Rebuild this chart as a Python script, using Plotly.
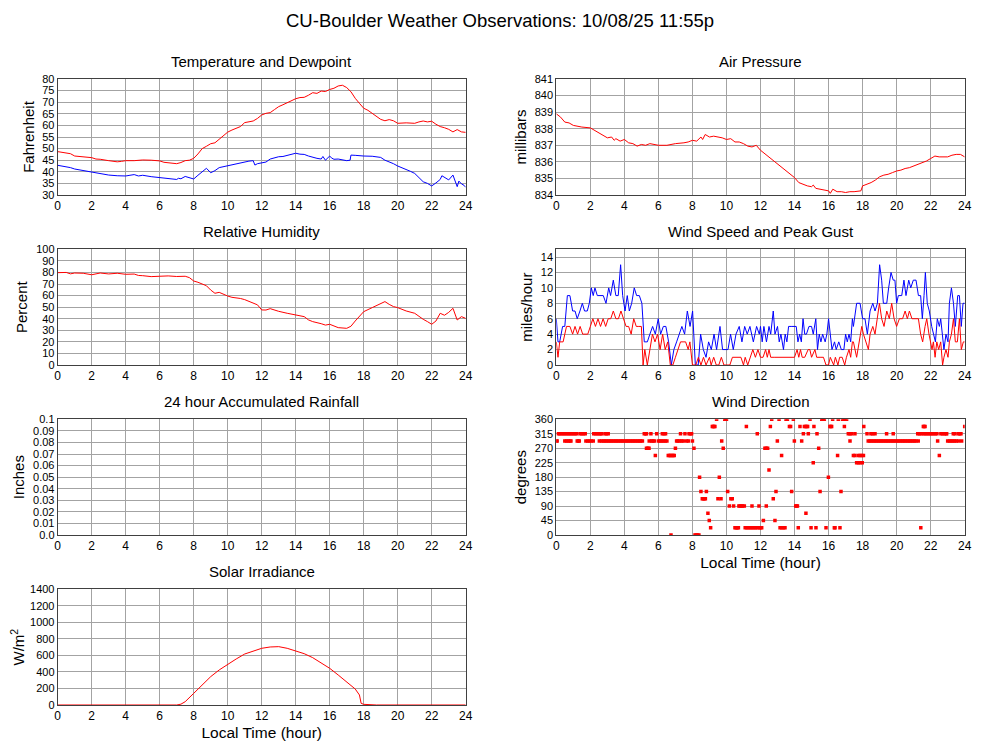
import plotly.graph_objects as go

# ---------------- DATA ----------------
hour_ticks = list(range(0, 25, 2))

temperature = [(0, 48.7), (0.25, 48.4), (0.5, 48.0), (0.75, 47.8), (1, 46.8), (1.25, 46.6), (1.5, 46.5), (2, 46.1),
               (2.25, 45.5), (2.5, 45.4), (3, 44.8), (3.5, 44.3), (3.75, 44.5), (4, 44.8), (4.5, 44.8), (5, 45.1),
               (5.5, 45.0), (6, 44.7), (6.25, 44.1), (6.5, 43.8), (7, 43.5), (7.25, 44.0), (7.5, 44.8), (7.75, 45.0),
               (8, 45.8), (8.25, 47.7), (8.5, 50.0), (8.75, 51.0), (9, 52.1), (9.25, 52.5), (9.5, 54.1), (9.75, 55.5),
               (10, 57.1), (10.25, 58.0), (10.5, 58.7), (10.75, 59.5), (11, 61.2), (11.25, 61.4), (11.5, 61.9),
               (11.75, 63.0), (12, 64.5), (12.25, 65.2), (12.5, 65.5), (12.75, 66.8), (13, 68.1), (13.25, 68.9),
               (13.5, 69.8), (13.75, 70.8), (14, 71.5), (14.25, 72.0), (14.5, 72.1), (14.75, 73.0), (15, 74.1),
               (15.25, 73.8), (15.5, 74.8), (15.75, 74.6), (16, 75.5), (16.25, 76.0), (16.5, 77.0), (16.75, 77.3),
               (17, 76.3), (17.25, 74.5), (17.5, 71.7), (17.75, 69.5), (18, 67.4), (18.25, 66.5), (18.5, 65.2),
               (18.75, 64.0), (19, 62.6), (19.25, 62.0), (19.5, 62.5), (19.75, 62.0), (20, 60.9), (20.5, 61.1),
               (21, 60.9), (21.25, 61.5), (21.5, 61.9), (21.75, 61.5), (22, 61.8), (22.25, 60.5), (22.5, 59.5),
               (22.75, 59.0), (23, 58.3), (23.25, 57.2), (23.5, 58.2), (23.75, 57.2), (24, 57.0)]

dewpoint = [(0, 42.8), (0.25, 42.5), (0.5, 42.2), (0.75, 41.8), (1, 41.2), (1.5, 40.5), (2, 39.8), (2.5, 39.2),
            (3, 38.6), (3.5, 38.3), (4, 38.2), (4.25, 38.5), (4.5, 38.8), (4.75, 38.2), (5, 38.5), (5.5, 37.9),
            (6, 37.5), (6.5, 37.0), (7, 36.7), (7.1, 37.2), (7.25, 37.0), (7.5, 38.0), (7.75, 37.6), (8, 36.9),
            (8.25, 38.5), (8.5, 40.0), (8.75, 41.5), (9, 39.6), (9.25, 40.5), (9.5, 41.8), (9.75, 42.2),
            (10, 42.9), (10.25, 43.2), (10.5, 43.6), (10.75, 44.0), (11, 44.3), (11.25, 44.6), (11.5, 44.8),
            (11.6, 42.9), (11.75, 43.5), (12, 43.9), (12.25, 44.2), (12.5, 45.5), (12.75, 46.0), (13, 46.5),
            (13.25, 46.6), (13.5, 47.0), (13.75, 47.6), (14, 48.0), (14.25, 47.6), (14.5, 47.5), (14.75, 46.8),
            (15, 46.2), (15.25, 45.8), (15.5, 45.5), (15.6, 46.6), (15.75, 45.0), (16, 46.8), (16.1, 46.0),
            (16.25, 45.4), (16.5, 45.5), (16.75, 45.0), (17, 44.8), (17.2, 45.0), (17.25, 47.2), (17.5, 47.1),
            (17.75, 46.9), (18, 46.8), (18.5, 46.7), (19, 46.2), (19.25, 45.0), (19.5, 44.4), (19.75, 43.5),
            (20, 42.5), (20.25, 41.8), (20.5, 41.0), (20.75, 40.2), (21, 39.3), (21.25, 37.5), (21.5, 35.7),
            (21.75, 35.0), (22, 33.9), (22.25, 35.2), (22.5, 36.7), (22.6, 38.3), (22.75, 37.5), (23, 36.5),
            (23.25, 38.6), (23.4, 35.0), (23.5, 33.6), (23.6, 36.0), (23.75, 34.8), (23.9, 34.2), (24, 33.3)]

pressure = [(0, 838.9), (0.25, 838.7), (0.5, 838.4), (0.75, 838.35), (1, 838.2), (1.25, 838.15), (1.5, 838.1),
            (2, 838.05), (2.25, 837.9), (2.5, 837.7), (2.75, 837.6), (3, 837.45), (3.25, 837.5), (3.4, 837.3),
            (3.5, 837.4), (3.75, 837.25), (4, 837.35), (4.25, 837.15), (4.5, 837.1), (4.75, 836.95), (5, 837.05),
            (5.25, 837.0), (5.5, 837.1), (5.75, 837.05), (6, 837.0), (6.5, 837.0), (7, 837.1), (7.5, 837.15),
            (7.75, 837.2), (8, 837.3), (8.25, 837.25), (8.5, 837.5), (8.6, 837.35), (8.75, 837.65), (9, 837.5),
            (9.25, 837.55), (9.5, 837.5), (9.75, 837.45), (10, 837.35), (10.25, 837.4), (10.5, 837.2),
            (10.75, 837.2), (11, 837.1), (11.25, 836.95), (11.5, 836.9), (11.75, 837.0), (12, 836.7),
            (12.25, 836.5), (12.5, 836.25), (12.75, 836.1), (13, 835.9), (13.25, 835.65), (13.5, 835.45),
            (13.75, 835.25), (14, 835.05), (14.25, 834.75), (14.5, 834.65), (14.75, 834.55), (15, 834.5),
            (15.1, 834.6), (15.25, 834.4), (15.5, 834.35), (15.75, 834.3), (16, 834.25), (16.1, 834.1),
            (16.25, 834.35), (16.5, 834.2), (16.75, 834.2), (17, 834.15), (17.25, 834.2), (17.5, 834.2),
            (17.9, 834.25), (18, 834.55), (18.25, 834.65), (18.5, 834.75), (18.75, 834.9), (19, 835.1),
            (19.25, 835.2), (19.5, 835.25), (19.75, 835.35), (20, 835.45), (20.25, 835.5), (20.5, 835.6),
            (20.75, 835.65), (21, 835.75), (21.25, 835.85), (21.5, 835.95), (21.75, 836.05), (22, 836.2),
            (22.25, 836.35), (22.5, 836.3), (23, 836.3), (23.25, 836.4), (23.5, 836.45), (23.75, 836.45),
            (24, 836.3)]

humidity = [(0, 79.8), (0.5, 80.0), (0.75, 78.8), (1, 79.5), (1.5, 79.3), (2, 78.0), (2.5, 79.5), (3, 78.7),
            (3.5, 79.3), (4, 78.4), (4.5, 78.6), (4.75, 77.4), (5, 77.2), (5.5, 76.4), (6, 76.7), (6.5, 77.0),
            (7, 76.5), (7.5, 76.7), (7.75, 75.5), (8, 72.6), (8.25, 71.5), (8.5, 69.7), (8.75, 68.5), (9, 64.8),
            (9.25, 62.0), (9.5, 62.8), (9.75, 61.0), (10, 59.6), (10.25, 58.5), (10.5, 58.2), (10.75, 57.5),
            (11, 56.5), (11.25, 55.0), (11.5, 53.9), (11.75, 52.0), (12, 47.6), (12.25, 47.5), (12.5, 48.7),
            (12.75, 47.5), (13, 46.4), (13.5, 44.7), (14, 43.2), (14.5, 41.8), (14.75, 39.0), (15, 37.5),
            (15.5, 35.7), (15.75, 34.5), (16, 35.2), (16.25, 34.0), (16.5, 32.3), (17, 31.7), (17.25, 33.5),
            (17.5, 38.0), (17.75, 42.5), (18, 46.1), (18.5, 49.6), (19, 53.3), (19.25, 54.8), (19.5, 52.4),
            (19.75, 50.5), (20, 49.6), (20.5, 46.7), (21, 44.7), (21.25, 42.0), (21.5, 39.5), (21.75, 37.5),
            (22, 35.2), (22.25, 38.0), (22.5, 44.7), (22.75, 43.0), (23, 45.5), (23.25, 49.0), (23.5, 38.9),
            (23.75, 41.8), (24, 40.3)]

rainfall = [(0, 0.0), (24, 0.0)]

solar = [(0, 0), (7.0, 0), (7.25, 10), (7.5, 40), (8, 141), (8.5, 242), (9, 343), (9.5, 424), (10, 492),
         (10.5, 557), (11, 617), (11.5, 653), (12, 686), (12.5, 702), (13, 706), (13.5, 686), (14, 658),
         (14.5, 621), (15, 573), (15.5, 512), (16, 444), (16.5, 363), (17, 282), (17.5, 194), (17.75, 121),
         (17.85, 20), (18, 8), (18.5, 4), (18.75, 0), (24, 0)]

wind_gust = [(0, 6), (0.1, 3), (0.2, 3), (0.37, 5), (0.5, 5), (0.65, 9), (0.8, 9), (0.96, 7), (1.1, 7), (1.23, 6),
             (1.39, 7), (1.53, 8), (1.66, 7), (1.82, 7), (1.94, 8), (2.06, 10), (2.17, 9), (2.27, 10), (2.41, 9),
             (2.57, 9), (2.76, 9), (2.92, 8), (3.08, 10), (3.19, 9), (3.35, 11), (3.5, 9), (3.64, 9), (3.78, 13),
             (3.9, 9), (4.04, 7), (4.17, 9), (4.29, 7), (4.43, 8), (4.58, 10), (4.72, 9), (4.88, 9), (5.03, 8),
             (5.17, 3), (5.35, 3), (5.5, 4), (5.66, 5), (5.82, 4), (5.99, 6), (6.13, 4), (6.29, 5), (6.44, 5),
             (6.6, 3), (6.76, 0), (6.91, 2), (7.07, 3), (7.23, 4), (7.38, 5), (7.54, 4), (7.7, 7), (7.86, 5),
             (8.01, 7), (8.17, 0), (8.34, 0), (8.48, 4), (8.64, 2), (8.8, 1), (8.95, 3), (9.11, 2), (9.27, 4),
             (9.42, 2), (9.62, 5), (9.77, 2), (9.93, 2), (10.09, 2), (10.24, 4), (10.4, 2), (10.56, 4),
             (10.75, 5), (10.91, 3), (11.07, 5), (11.22, 4), (11.38, 5), (11.58, 3), (11.77, 5), (11.93, 4),
             (12.0, 5), (12.1, 3), (12.2, 5), (12.35, 3), (12.5, 5), (12.6, 4), (12.75, 7), (12.85, 4),
             (13.0, 5), (13.1, 3), (13.2, 4), (13.35, 2), (13.45, 4), (13.55, 3), (13.65, 5), (13.8, 5),
             (14.0, 5), (14.1, 5), (14.2, 3), (14.3, 4), (14.4, 3), (14.5, 6), (14.6, 4), (14.7, 4), (14.85, 5),
             (15.0, 5), (15.1, 4), (15.25, 6), (15.35, 2), (15.45, 4), (15.55, 3), (15.65, 4), (15.8, 3),
             (15.9, 4), (16.0, 6), (16.1, 4), (16.2, 2), (16.35, 3), (16.45, 2), (16.6, 3), (16.75, 2),
             (16.9, 2), (17.0, 4), (17.1, 3), (17.2, 4), (17.3, 3), (17.4, 6), (17.46, 5), (17.65, 8),
             (17.85, 8), (18.0, 6), (18.14, 6), (18.28, 4), (18.44, 7), (18.6, 8), (18.73, 7), (18.87, 8),
             (19.0, 13), (19.12, 11), (19.22, 8), (19.42, 8), (19.53, 10), (19.67, 12), (19.8, 11), (19.9, 11),
             (20.0, 8), (20.1, 9), (20.3, 9), (20.43, 11), (20.55, 9), (20.71, 11), (20.83, 10), (20.98, 11),
             (21.14, 11), (21.28, 9), (21.41, 9), (21.51, 6), (21.61, 9), (21.69, 12), (21.8, 8), (21.92, 7),
             (22.06, 5), (22.16, 4), (22.28, 3), (22.39, 6), (22.51, 5), (22.59, 6), (22.7, 3), (22.78, 2),
             (22.9, 4), (23.02, 3), (23.1, 8), (23.22, 10), (23.34, 8), (23.45, 5), (23.59, 9), (23.69, 9),
             (23.8, 5), (23.9, 8), (24.0, 8)]

wind_speed = [(0, 3), (0.1, 1), (0.2, 3), (0.4, 3), (0.6, 5), (0.8, 5), (0.96, 4), (1.1, 5), (1.25, 4), (1.4, 5),
              (1.55, 4), (1.7, 4), (1.85, 4), (2.0, 5), (2.15, 6), (2.3, 5), (2.45, 6), (2.6, 5), (2.75, 6),
              (2.9, 5), (3.05, 6), (3.2, 6), (3.35, 7), (3.5, 6), (3.65, 6), (3.8, 7), (3.95, 6), (4.1, 5),
              (4.25, 5), (4.4, 4), (4.55, 6), (4.7, 5), (4.85, 5), (5.0, 5), (5.1, 0), (5.2, 2), (5.35, 0),
              (5.5, 2), (5.65, 4), (5.8, 3), (5.95, 4), (6.1, 2), (6.25, 4), (6.4, 2), (6.55, 3), (6.7, 0),
              (6.85, 0), (7.0, 1), (7.15, 2), (7.3, 3), (7.45, 3), (7.6, 3), (7.75, 2), (7.85, 3), (8.0, 0),
              (8.2, 0), (8.35, 1), (8.5, 0), (8.65, 1), (8.8, 0), (9.0, 1), (9.1, 0), (9.25, 1), (9.4, 0),
              (9.55, 0), (9.7, 1), (9.85, 0), (10.0, 0), (10.2, 0), (10.35, 1), (10.5, 1), (10.7, 1),
              (10.85, 1), (11.0, 0), (11.1, 1), (11.25, 0), (11.4, 1), (11.55, 2), (11.7, 1), (11.85, 2),
              (12.0, 1), (12.15, 1), (12.3, 2), (12.4, 1), (12.5, 2), (12.6, 1), (12.8, 1), (13.0, 1),
              (13.2, 1), (13.4, 1), (13.6, 1), (13.8, 1), (14.0, 1), (14.15, 2), (14.25, 1), (14.35, 2),
              (14.45, 1), (14.6, 1), (14.8, 2), (14.9, 2), (15.0, 1), (15.2, 2), (15.3, 1), (15.5, 1),
              (15.7, 1), (15.85, 0), (16.0, 0), (16.1, 1), (16.3, 0), (16.4, 1), (16.55, 0), (16.65, 1),
              (16.8, 1), (16.95, 0), (17.05, 1), (17.2, 2), (17.3, 1), (17.4, 3), (17.46, 3), (17.65, 1),
              (17.8, 3), (17.95, 5), (18.05, 4), (18.2, 3), (18.34, 2), (18.44, 4), (18.6, 5), (18.73, 4),
              (18.87, 6), (18.99, 8), (19.12, 6), (19.26, 5), (19.42, 7), (19.57, 6), (19.71, 8), (19.85, 6),
              (20.0, 5), (20.16, 6), (20.35, 6), (20.5, 7), (20.63, 6), (20.75, 7), (20.9, 6), (21.1, 6),
              (21.28, 6), (21.41, 4), (21.53, 3), (21.67, 5), (21.77, 6), (21.9, 4), (21.98, 3), (22.08, 2),
              (22.16, 3), (22.26, 1), (22.36, 3), (22.47, 2), (22.59, 3), (22.7, 0), (22.78, 1), (22.9, 2),
              (23.02, 1), (23.1, 3), (23.22, 4), (23.34, 6), (23.45, 3), (23.57, 3), (23.69, 6), (23.8, 2),
              (23.92, 3), (24.0, 3)]

# wind direction observations: hours at which each compass direction (degrees) was reported
wd_360 = [9.42, 9.9, 9.95, 10.0, 12.66, 13.09, 13.5, 13.58, 13.93, 14.91, 15.6, 15.65, 15.7, 15.75, 16.24,
          16.57, 16.82, 16.9, 16.97, 17.06]
wd_337 = [9.17, 9.22, 9.27, 9.32, 11.17, 12.58, 13.7, 13.77, 14.32, 14.58, 14.65, 14.72, 14.77, 15.14, 16.08,
          16.13, 16.18, 16.93, 18.07, 21.57, 21.62, 21.67, 24.0]
wd_315 = [0.12, 0.2, 0.3, 0.4, 0.5, 0.6, 0.7, 0.8, 0.9, 1.0, 1.1, 1.2, 1.4, 1.5, 1.6, 1.7, 2.2, 2.3, 2.4, 2.5,
          2.6, 2.66, 2.86, 2.95, 3.05, 5.17, 5.25, 5.3, 5.56, 5.9, 6.23, 6.33, 6.42, 7.3, 7.56, 7.8, 7.88, 7.95,
          11.81, 14.52, 14.81, 15.32, 17.16, 17.26, 17.36, 17.55, 18.26, 18.49, 18.6, 18.73, 19.41, 19.8, 21.24,
          21.34, 21.44, 21.57, 21.67, 21.77, 21.87, 21.97, 22.07, 22.17, 22.27, 22.37, 22.6, 22.7, 22.8, 22.9,
          22.94, 23.33, 23.43, 23.63, 23.7, 23.78]
wd_292 = [0.0, 0.05, 0.5, 0.6, 0.7, 0.8, 0.86, 1.23, 1.3, 1.35, 1.74, 1.85, 1.95, 2.05, 2.17, 2.53, 2.66, 2.76,
          2.86, 2.96, 3.06, 3.16, 3.26, 3.36, 3.46, 3.56, 3.66, 3.76, 3.86, 3.96, 4.06, 4.16, 4.26, 4.36, 4.46,
          4.56, 4.66, 4.76, 4.86, 4.96, 5.06, 5.46, 5.6, 5.68, 5.76, 6.0, 6.1, 6.2, 6.3, 6.4, 6.5, 7.07, 7.15,
          7.25, 7.37, 7.46, 7.66, 7.76, 8.0, 9.72, 12.99, 13.99, 14.42, 17.26, 18.33, 18.43, 18.53, 18.63, 18.73,
          18.83, 18.93, 19.03, 19.13, 19.23, 19.33, 19.43, 19.53, 19.63, 19.73, 19.83, 19.93, 20.03, 20.13,
          20.23, 20.33, 20.43, 20.53, 20.63, 20.73, 20.83, 20.93, 21.03, 21.13, 21.27, 22.41, 23.0, 23.1,
          23.2, 23.3, 23.4, 23.5, 23.63, 23.82]
wd_270 = [5.3, 5.38, 5.45, 7.0, 8.09, 9.81, 12.26, 12.34, 12.42, 15.42]
wd_247 = [5.82, 6.58, 6.65, 6.72, 6.8, 6.87, 6.93, 13.24, 16.53, 17.46, 17.55, 17.75, 17.85, 17.95, 18.05, 22.51]
wd_225 = [15.1, 17.65, 17.75, 17.85, 17.98]
wd_202 = [12.5]
wd_180 = [8.42, 9.58, 15.99]
wd_135 = [8.5, 8.82, 10.07, 12.91, 13.83, 15.5, 16.73]
wd_112 = [8.58, 8.64, 8.7, 8.76, 9.5, 9.68, 10.26, 10.34, 12.75]
wd_90 = [10.17, 10.42, 10.73, 10.8, 10.88, 10.95, 11.05, 11.5, 11.91, 12.34, 14.07, 14.12, 14.17]
wd_67 = [8.91, 14.67]
wd_45 = [8.99, 12.17, 12.85]
wd_22 = [9.07, 10.5, 10.57, 10.64, 10.7, 11.1, 11.2, 11.3, 11.4, 11.5, 11.6, 11.7, 11.8, 11.93, 12.0, 12.07,
         13.15, 13.25, 13.35, 13.44, 14.22, 14.97, 15.26, 15.85, 16.34, 16.38, 16.67, 21.42]
wd_0 = [6.74, 8.15, 8.22, 8.3, 8.38]
wd_levels = [(360, wd_360), (337.5, wd_337), (315, wd_315), (292.5, wd_292), (270, wd_270), (247.5, wd_247),
             (225, wd_225), (202.5, wd_202), (180, wd_180), (135, wd_135), (112.5, wd_112), (90, wd_90),
             (67.5, wd_67), (45, wd_45), (22.5, wd_22), (0, wd_0)]

temp_ticks = list(range(30, 81, 5))
press_ticks = list(range(834, 842))
rh_ticks = list(range(0, 101, 10))
wind_ticks = list(range(0, 15, 2))
rain_ticks = [0.0, 0.01, 0.02, 0.03, 0.04, 0.05, 0.06, 0.07, 0.08, 0.09, 0.1]
rain_labels = ["0.0", "0.01", "0.02", "0.03", "0.04", "0.05", "0.06", "0.07", "0.08", "0.09", "0.1"]
dir_ticks = list(range(0, 361, 45))
solar_ticks = list(range(0, 1401, 200))

# ---------------- FIGURE ----------------
# the page body adds an 8px margin; the figure is sized so it fills the 1000x745 window exactly
OFF = 8
W, H = 1000 - OFF, 745 - OFF
FONT = "Liberation Sans, Arial, Helvetica, sans-serif"
RED, BLUE = "#ff0000", "#0000ff"

def xs(pairs):
    return [p[0] for p in pairs]

def ys(pairs):
    return [p[1] for p in pairs]

def px_x(p):
    return (p - OFF) / W

def px_y(p):
    return 1 - (p - OFF) / H

fig = go.Figure()
line_kw = dict(mode="lines", hoverinfo="skip")
fig.add_trace(go.Scatter(x=xs(temperature), y=ys(temperature), line=dict(color=RED, width=1), xaxis="x", yaxis="y", **line_kw))
fig.add_trace(go.Scatter(x=xs(dewpoint), y=ys(dewpoint), line=dict(color=BLUE, width=1), xaxis="x", yaxis="y", **line_kw))
fig.add_trace(go.Scatter(x=xs(pressure), y=ys(pressure), line=dict(color=RED, width=1), xaxis="x2", yaxis="y2", **line_kw))
fig.add_trace(go.Scatter(x=xs(humidity), y=ys(humidity), line=dict(color=RED, width=1), xaxis="x3", yaxis="y3", **line_kw))
fig.add_trace(go.Scatter(x=xs(wind_gust), y=ys(wind_gust), line=dict(color=BLUE, width=1), xaxis="x4", yaxis="y4", **line_kw))
fig.add_trace(go.Scatter(x=xs(wind_speed), y=ys(wind_speed), line=dict(color=RED, width=1), xaxis="x4", yaxis="y4", **line_kw))
fig.add_trace(go.Scatter(x=xs(rainfall), y=ys(rainfall), line=dict(color=RED, width=1), opacity=0,
                         xaxis="x5", yaxis="y5", **line_kw))
wd_x, wd_y = [], []
for deg, hours in wd_levels:
    wd_x += hours
    wd_y += [deg] * len(hours)
fig.add_trace(go.Scatter(x=wd_x, y=wd_y, mode="markers", marker=dict(symbol="square", size=3.5, color=RED, line=dict(width=0)),
                         xaxis="x6", yaxis="y6", hoverinfo="skip"))
fig.add_trace(go.Scatter(x=xs(solar), y=ys(solar), line=dict(color=RED, width=1), xaxis="x7", yaxis="y7", **line_kw))

# plot-area boxes in window pixels: (left, right), (top, bottom)
LX = (57.7, 465.7)
RX = (556.3, 964.7)
ROWS = [(79, 195), (249.3, 365), (419.3, 535), (589.3, 705)]
panels = [
    (LX, ROWS[0], "Temperature and Dewpoint", "Fahrenheit", [30, 80], temp_ticks, None, False),
    (RX, ROWS[0], "Air Pressure", "millibars", [834, 841], press_ticks, None, False),
    (LX, ROWS[1], "Relative Humidity", "Percent", [0, 100], rh_ticks, None, False),
    (RX, ROWS[1], "Wind Speed and Peak Gust", "miles/hour", [0, 15], wind_ticks, None, False),
    (LX, ROWS[2], "24 hour Accumulated Rainfall", "Inches", [0, 0.1], rain_ticks, rain_labels, False),
    (RX, ROWS[2], "Wind Direction", "degrees", [0, 360], dir_ticks, None, True),
    (LX, ROWS[3], "Solar Irradiance", "W/m<sup>2</sup>", [0, 1400], solar_ticks, None, True),
]

annotations = [dict(text="CU-Boulder Weather Observations: 10/08/25 11:55p", x=px_x(500), y=px_y(20),
                    xref="paper", yref="paper", showarrow=False, font=dict(size=18.5, family=FONT, color="black"),
                    xanchor="center", yanchor="middle")]
grid_col = "#a3a3a3"
axis_col = "#404040"
layout_axes = {}
for i, (xr, yr, title, ytitle, yrange, yticks, ylabels, xtitle) in enumerate(panels, start=1):
    sx = "" if i == 1 else str(i)
    xdom = [px_x(xr[0]), px_x(xr[1])]
    ydom = [px_y(yr[1]), px_y(yr[0])]
    xa = dict(
        domain=xdom, anchor="y" + sx, range=[0, 24], tickvals=hour_ticks, showgrid=True, gridcolor=grid_col,
        gridwidth=1, showline=True, linecolor=axis_col, linewidth=1, mirror=True, zeroline=False, ticks="",
        tickfont=dict(size=12, family=FONT, color="black"), fixedrange=True, automargin=False,
    )
    if xtitle:
        xa["title"] = dict(text="Local Time (hour)", font=dict(size=15.5, family=FONT, color="black"), standoff=4)
    layout_axes["xaxis" + sx] = xa
    ya = dict(
        domain=ydom, anchor="x" + sx, range=yrange, tickvals=yticks, showgrid=True,
        gridcolor=grid_col, gridwidth=1, showline=True, linecolor=axis_col, linewidth=1, mirror=True,
        zeroline=False, ticks="", tickfont=dict(size=11, family=FONT, color="black"), fixedrange=True,
        automargin=False,
        title=dict(text=ytitle, font=dict(size=15, family=FONT, color="black"), standoff=4),
    )
    if ylabels is not None:
        ya["ticktext"] = ylabels
    layout_axes["yaxis" + sx] = ya
    annotations.append(dict(text=title, x=(xdom[0] + xdom[1]) / 2, y=px_y(yr[0] - 18), xref="paper",
                            yref="paper", showarrow=False, xanchor="center", yanchor="middle",
                            font=dict(size=15, family=FONT, color="black")))

fig.update_layout(
    template="none",
    width=W, height=H, margin=dict(l=0, r=0, t=0, b=0), paper_bgcolor="white", plot_bgcolor="white",
    showlegend=False, font=dict(family=FONT, color="black"), annotations=annotations, **layout_axes,
)
fig.write_html("out.html")
